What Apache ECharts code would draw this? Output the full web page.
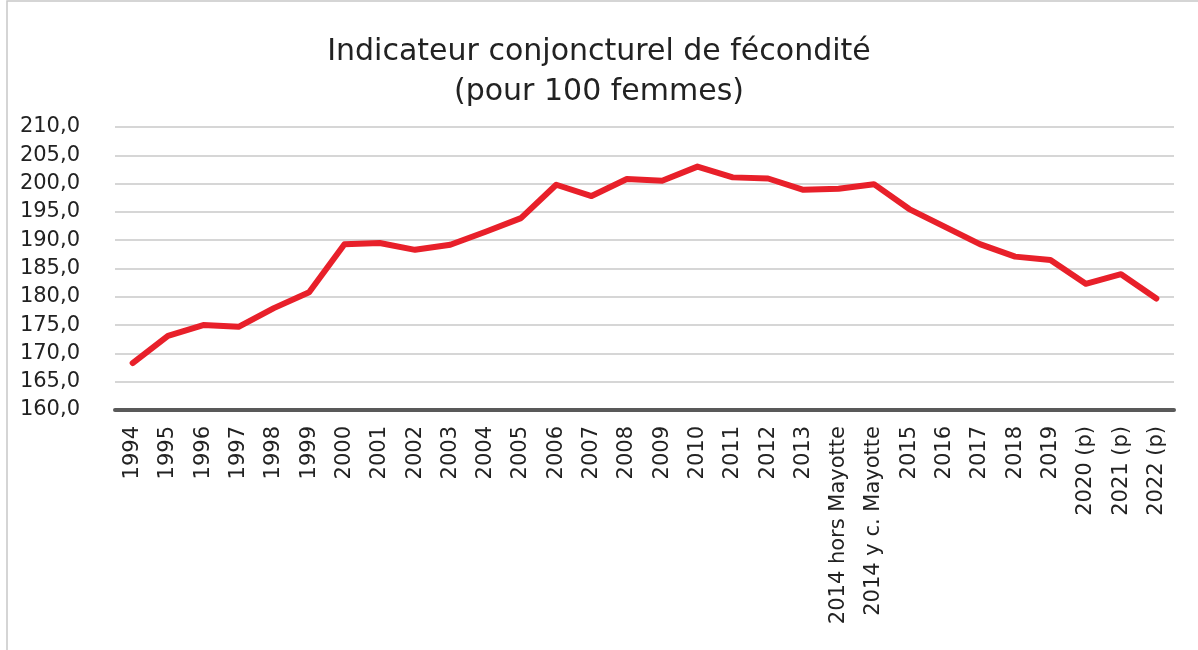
<!DOCTYPE html>
<html>
<head>
<meta charset="utf-8">
<script src="https://cdn.jsdelivr.net/npm/echarts@6/dist/echarts.min.js"></script>
<style>
  html, body { margin: 0; padding: 0; background: #fff; }
  #chart { width: 1198px; height: 650px; }
</style>
</head>
<body>
<div id="chart"></div>
<script>
// categories (x axis)
const years = ['1994', '1995', '1996', '1997', '1998', '1999', '2000', '2001', '2002', '2003',
  '2004', '2005', '2006', '2007', '2008', '2009', '2010', '2011', '2012', '2013',
  '2014 hors Mayotte', '2014 y c. Mayotte', '2015', '2016', '2017', '2018', '2019',
  '2020 (p)', '2021 (p)', '2022 (p)']

// indicateur conjoncturel de fécondité, pour 100 femmes
const icf = [168.3, 173.1, 175.0, 174.7, 178.0, 180.8, 189.3, 189.5, 188.3, 189.2,
  191.5, 193.9, 199.8, 197.8, 200.8, 200.5, 203.0, 201.1, 200.9, 198.9,
  199.1, 199.9, 195.5, 192.4, 189.3, 187.1, 186.5, 182.3, 184.0, 179.7]

const yMin = 160
const yMax = 210
const yStep = 5

const font = '"DejaVu Sans", sans-serif'

const chart = echarts.init(document.getElementById('chart'))

const option = {
  backgroundColor: '#fff',
  animation: false,
  title: {
    text: 'Indicateur conjoncturel de fécondité\n(pour 100 femmes)',
    left: 'center',
    top: 27,
    textStyle: {
      fontFamily: font,
      fontWeight: 'normal',
      fontSize: 30,
      lineHeight: 40,
      color: '#222'
    }
  },
  graphic: [
    {
      type: 'rect',
      shape: { x: 7, y: 1, width: 1200, height: 660 },
      style: { fill: 'none', stroke: '#c8c8c8', lineWidth: 1.5 },
      silent: true
    }
  ],
  grid: {
    left: 115,
    right: 24,
    top: 127,
    bottom: 240,
    containLabel: false
  },
  xAxis: {
    type: 'category',
    data: years,
    boundaryGap: true,
    axisLine: { show: true, lineStyle: { color: '#595959', width: 4 } },
    axisTick: { show: false },
    axisLabel: {
      interval: 0,
      rotate: 90,
      margin: 16,
      fontFamily: font,
      fontSize: 21,
      color: '#222'
    }
  },
  yAxis: {
    type: 'value',
    min: yMin,
    max: yMax,
    interval: yStep,
    axisLine: { show: false },
    axisTick: { show: false },
    splitLine: { lineStyle: { color: '#c8c8c8', width: 1.5 } },
    axisLabel: {
      margin: 35,
      fontFamily: font,
      fontSize: 21,
      color: '#222',
      formatter: v => v.toFixed(1).replace('.', ',')
    }
  },
  series: [
    {
      type: 'line',
      data: icf,
      symbol: 'none',
      lineStyle: { color: '#e8202a', width: 6, cap: 'round', join: 'round' }
    }
  ]
}

chart.setOption(option)
</script>
</body>
</html>
